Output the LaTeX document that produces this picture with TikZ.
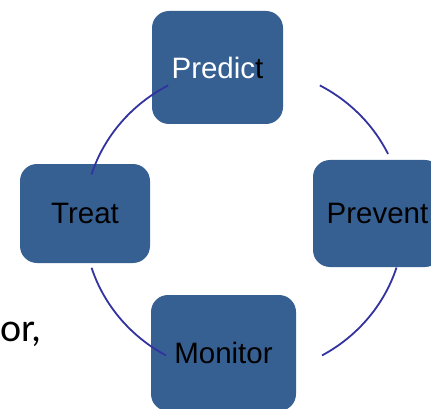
\documentclass[tikz,border=0pt]{standalone}
\usepackage{fontspec}
\setmainfont{Liberation Sans}
\newfontfamily\slidefont{Carlito}
\definecolor{stageblue}{RGB}{55,96,146}
\definecolor{ringblue}{RGB}{50,50,160}

\begin{document}
\begin{tikzpicture}
[ x=1pt, y=-1pt
, stage/.style={rectangle, rounded corners=17pt, fill=stageblue, inner sep=0pt, font=\fontsize{29.5}{30}\selectfont}
, ring/.style={draw=ringblue, line width=1.8pt}
, slidetext/.style={anchor=base west, inner sep=0pt, font=\slidefont\fontsize{40}{40}\selectfont}
]
\useasboundingbox (0,0) rectangle (431,409);
\clip (0,0) rectangle (431,409);
% Stages:
\node (predict) [stage, minimum width=131pt, minimum height=113pt] at (217.5,67.5) {\color{white}Predic\color{black}t};
\node (prevent) [stage, minimum width=129pt, minimum height=107pt] at (377.5,213.5) {Prevent};
\node (monitor) [stage, minimum width=145pt, minimum height=116pt] at (223.5,353) {Monitor};
\node (treat) [stage, minimum width=130pt, minimum height=99pt] at (85,213.5) {Treat};
% Left-over slide text:
\node (orword) [slidetext] at (0,341) {or,};
% Cycle arcs:
\coordinate (hub) at (244,221);
\foreach \from/\to in {-61.7/-25.8, 17.6/60.8, 119.2/162.3, 197.6/241.7}
  \draw [ring] (hub) ++(\from:160 and 154) arc [start angle=\from, end angle=\to, x radius=160, y radius=154];
\end{tikzpicture}
\end{document}
